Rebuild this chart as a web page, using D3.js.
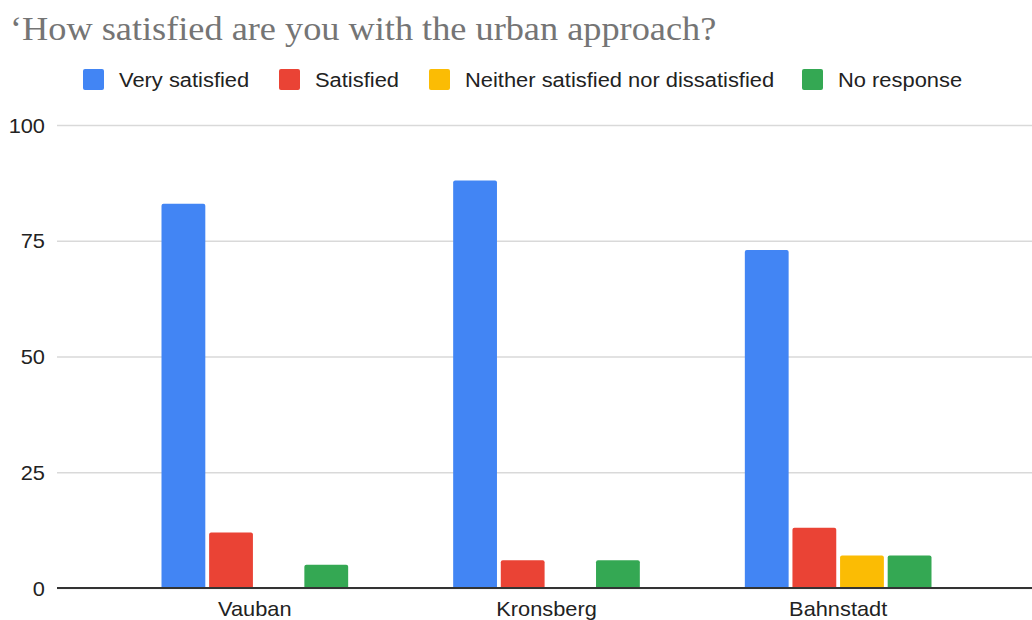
<!DOCTYPE html>
<html><head><meta charset="utf-8">
<script src="https://cdn.jsdelivr.net/npm/d3@7"></script>
<style>body{margin:0;background:#fff;} svg{display:block;}</style>
</head><body>
<svg id="c" width="1032" height="620"></svg>
<script>
const categories = ["Vauban", "Kronsberg", "Bahnstadt"];
const seriesNames = ["Very satisfied", "Satisfied", "Neither satisfied nor dissatisfied", "No response"];
const verySatisfied = [83, 88, 73];
const satisfied = [12, 6, 13];
const neither = [0, 0, 7];
const noResponse = [5, 6, 7];
const yTicks = [0, 25, 50, 75, 100];
const colors = ["#4285F4", "#EA4335", "#FBBC04", "#34A853"];
const title = "\u2018How satisfied are you with the urban approach?";

const seriesValues = [verySatisfied, satisfied, neither, noResponse];
const svg = d3.select("#c");
const font = "'Liberation Sans', Arial, sans-serif";
const SX = 1.09; // horizontal text stretch seen in the reference

const y = d3.scaleLinear().domain([0, 100]).range([588, 125]);
const x0 = d3.scaleBand().domain(categories).range([109, 984]).paddingInner(0.36).paddingOuter(0.18);
const x1 = d3.scaleBand().domain(seriesNames).range([0, x0.bandwidth()]).paddingInner(0.08);

function stretched(sel, px, py, s) {
  return sel.attr("transform", `translate(${px},${py}) scale(${s},1)`);
}

// title
stretched(svg.append("text"), 10, 40, 1.1).text(title)
  .attr("font-family", "'Liberation Serif', 'Times New Roman', serif")
  .attr("font-size", 33).attr("fill", "#757575");

// legend
const legendX = [83, 279, 429, 802];
const lg = svg.append("g");
seriesNames.forEach((s, i) => {
  lg.append("rect").attr("x", legendX[i]).attr("y", 69).attr("width", 21).attr("height", 21)
    .attr("rx", 2).attr("fill", colors[i]);
  stretched(lg.append("text"), legendX[i] + 36, 87, 1.095).text(s)
    .attr("font-family", font).attr("font-size", 20).attr("fill", "#222");
});

// gridlines + y labels
const gAxis = svg.append("g").attr("transform", "translate(57,0)")
  .call(d3.axisLeft(y).tickValues(yTicks).tickSize(-975).tickPadding(12).tickFormat(d3.format("d")));
gAxis.select(".domain").remove();
gAxis.selectAll(".tick line").attr("stroke", "#d9d9d9").attr("stroke-width", 1.5);
gAxis.selectAll(".tick text").each(function () {
  const t = d3.select(this);
  t.attr("x", null).attr("dy", null).attr("text-anchor", "end")
    .attr("transform", `translate(-12,7) scale(${SX},1)`);
}).attr("font-family", font).attr("font-size", 20).attr("fill", "#222");

// bars
const data = [];
categories.forEach((c, ci) => seriesNames.forEach((s, si) => data.push({c, s, si, v: seriesValues[si][ci]})));
function barPath(d) {
  const bx = x0(d.c) + x1(d.s), bw = x1.bandwidth(), top = y(d.v), bot = y(0), r = 2;
  if (d.v <= 0) return "";
  return `M${bx},${bot}V${top + r}Q${bx},${top} ${bx + r},${top}H${bx + bw - r}Q${bx + bw},${top} ${bx + bw},${top + r}V${bot}Z`;
}
svg.append("g").selectAll("path").data(data).join("path")
  .attr("d", barPath).attr("fill", d => colors[d.si]);

// x axis
const xAxis = svg.append("g").attr("transform", "translate(0,588)")
  .call(d3.axisBottom(x0).tickSize(0).tickPadding(12));
xAxis.select(".domain").remove();
xAxis.append("line").attr("x1", 57).attr("x2", 1032).attr("y1", 0).attr("y2", 0)
  .attr("stroke", "#333").attr("stroke-width", 2);
xAxis.selectAll(".tick text").attr("y", null).attr("dy", null)
  .attr("transform", `translate(0,28) scale(${SX},1)`)
  .attr("font-family", font).attr("font-size", 20).attr("fill", "#222");
</script>
</body></html>
